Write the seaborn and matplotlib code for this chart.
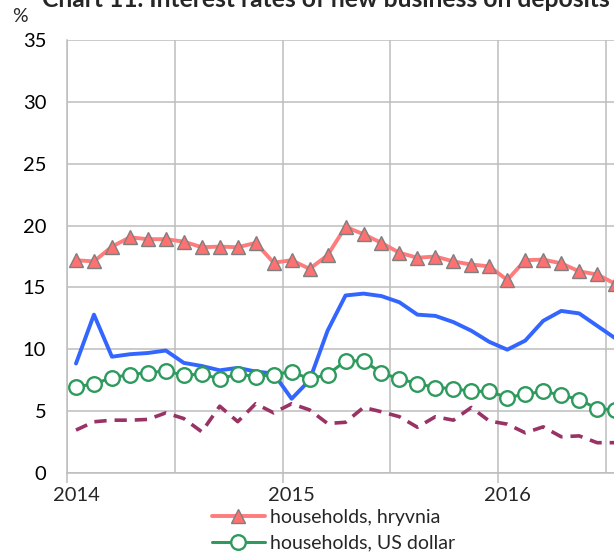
import numpy as np
import pandas as pd
import matplotlib
matplotlib.use("Agg")
import matplotlib.pyplot as plt
import seaborn as sns

# ── Data: monthly rates, Jan 2014 – Jul 2016 (%) ─────────────────────────────
hh_uah = [17.2, 17.1, 18.3, 19.05, 18.9, 18.9, 18.7, 18.25, 18.3, 18.25, 18.6, 17.0,
          17.2, 16.5, 17.6, 19.9, 19.3, 18.6, 17.8, 17.4, 17.5, 17.1, 16.85, 16.7,
          15.6, 17.2, 17.25, 16.95, 16.3, 16.05, 15.3]
hh_usd = [6.96, 7.2, 7.7, 7.96, 8.1, 8.25, 7.9, 8.0, 7.6, 8.0, 7.8, 7.95,
          8.2, 7.6, 7.95, 9.06, 9.06, 8.1, 7.6, 7.23, 6.9, 6.83, 6.6, 6.6,
          6.1, 6.37, 6.6, 6.3, 5.94, 5.2, 5.1]
nfc_uah = [8.85, 12.8, 9.4, 9.6, 9.7, 9.9, 8.9, 8.65, 8.3, 8.5, 8.2, 8.04,
           6.0, 7.5, 11.5, 14.35, 14.5, 14.3, 13.8, 12.8, 12.7, 12.2, 11.5, 10.6,
           9.97, 10.7, 12.3, 13.1, 12.9, 11.9, 10.9]
nfc_usd = [3.47, 4.14, 4.27, 4.27, 4.33, 4.86, 4.4, 3.33, 5.4, 4.15, 5.6, 4.86,
           5.6, 5.1, 4.0, 4.1, 5.3, 4.95, 4.55, 3.7, 4.55, 4.27, 5.3, 4.2,
           3.95, 3.25, 3.73, 2.93, 3.0, 2.45, 2.45]

series_labels = ["households, hryvnia", "households, US dollar",
                 "non-financial corporations, hryvnia",
                 "non-financial corporations, US dollar"]
year_labels = ["2014", "2015", "2016"]
y_ticks = [0, 5, 10, 15, 20, 25, 30, 35]

# month categories; each mark sits in the middle of its month slot
month_idx = np.arange(len(hh_uah))
df = pd.DataFrame({"pos": month_idx + 0.5, "hh_uah": hh_uah, "hh_usd": hh_usd,
                   "nfc_uah": nfc_uah, "nfc_usd": nfc_usd})

# ── Style ────────────────────────────────────────────────────────────────────
sns.set_theme(style="white")
plt.rcParams["font.family"] = ["Lato", "DejaVu Sans"]

PINK = "#FF7C7C"
GREEN = "#2E9A5E"
BLUE = "#3366FF"
PURPLE = "#993366"
GRID = "#BDBDBD"

W, H = 614, 553
fig = plt.figure(figsize=(W / 100, H / 100), dpi=100)
ax = fig.add_axes([67 / W, 1 - 473 / H, 1 - 67 / W, (473 - 40) / H])

# ── Lines ────────────────────────────────────────────────────────────────────
sns.lineplot(data=df, x="pos", y="nfc_usd", ax=ax, color=PURPLE, linewidth=2.6,
             linestyle=(0, (3.4, 2.2)), label=series_labels[3], zorder=2)
sns.lineplot(data=df, x="pos", y="nfc_uah", ax=ax, color=BLUE, linewidth=2.8,
             label=series_labels[2], zorder=2)
sns.lineplot(data=df, x="pos", y="hh_usd", ax=ax, color=GREEN, linewidth=2.2,
             marker="o", markersize=10.5, markerfacecolor="white",
             markeredgecolor=GREEN, markeredgewidth=1.7,
             label=series_labels[1], zorder=3)
sns.lineplot(data=df, x="pos", y="hh_uah", ax=ax, color=PINK, linewidth=2.8,
             marker="^", markersize=10.5, markerfacecolor="#FF7070",
             markeredgecolor="#7F7F7F", markeredgewidth=1.0,
             label=series_labels[0], zorder=4)

# ── Axes ─────────────────────────────────────────────────────────────────────
ax.set_xlim(0, (W - 67) / 17.97)
ax.set_ylim(0, 35)
ax.set_xlabel("")
ax.set_ylabel("")
ax.set_yticks(y_ticks)
ax.set_xticks(np.arange(0, 31, 6))
ax.grid(True, color=GRID, linewidth=1.1)
ax.tick_params(axis="x", length=0, labelbottom=False)
ax.tick_params(axis="y", length=0, pad=15, labelsize=14.5, labelcolor="#000000")
for side in ["top", "right"]:
    ax.spines[side].set_visible(False)
for side in ["left", "bottom"]:
    ax.spines[side].set_color(GRID)
    ax.spines[side].set_linewidth(1.1)

sec = ax.secondary_xaxis("bottom")
sec.set_xticks([0.5, 12.5, 24.5], labels=year_labels)
sec.set_xticks([0, 12, 24], minor=True)
sec.tick_params(which="major", length=0, pad=10, labelsize=14.5)
sec.tick_params(which="minor", length=7, width=1.1, color=GRID)
sec.spines["bottom"].set_visible(False)

# ── Legend (lower entries fall off the cropped canvas) ───────────────────────
handles, labels = ax.get_legend_handles_labels()
order = [labels.index(lbl) for lbl in series_labels]
ax.get_legend().remove()
fig.legend([handles[i] for i in order], [labels[i] for i in order],
           loc="upper left", bbox_to_anchor=(212 / W, 1 - 509 / H),
           frameon=False, fontsize=14, handlelength=2.7, handletextpad=0.3,
           labelspacing=0.45, borderpad=0, borderaxespad=0)

# ── Titles ───────────────────────────────────────────────────────────────────
fig.text(42 / W, 1 - 7 / H, "Chart 11. Interest rates of new business on deposits",
         fontsize=17.7, fontweight="bold", ha="left", va="baseline")
fig.text(20 / W, 1 - 17 / H, "%", fontsize=14, ha="center", va="center")

fig.savefig("out.png", dpi=100, facecolor="white")
plt.close(fig)
